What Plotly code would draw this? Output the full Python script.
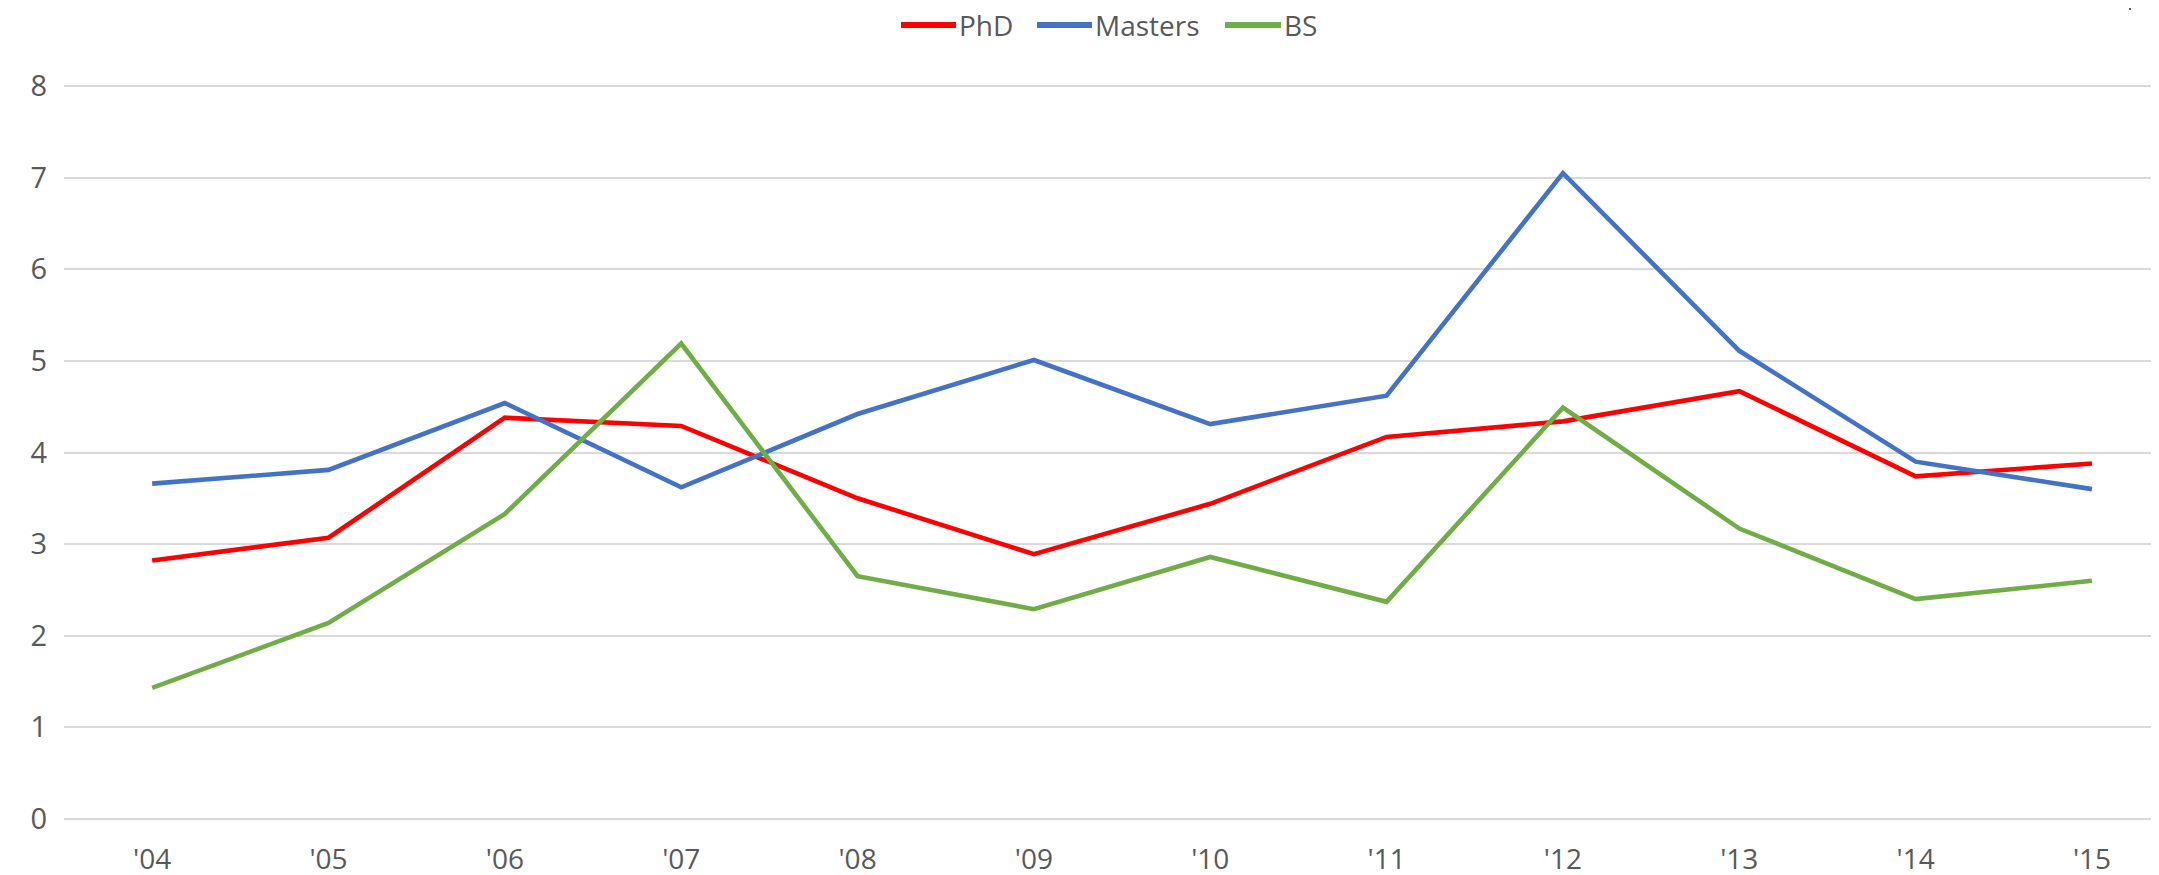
import plotly.graph_objects as go

years = ["'04", "'05", "'06", "'07", "'08", "'09", "'10", "'11", "'12", "'13", "'14", "'15"]
phd = [2.82, 3.07, 4.38, 4.29, 3.50, 2.89, 3.44, 4.17, 4.34, 4.67, 3.74, 3.88]
masters = [3.66, 3.81, 4.54, 3.62, 4.42, 5.01, 4.31, 4.62, 7.05, 5.11, 3.90, 3.60]
bs = [1.43, 2.14, 3.33, 5.19, 2.65, 2.29, 2.86, 2.37, 4.49, 3.17, 2.40, 2.60]
y_ticks = [0, 1, 2, 3, 4, 5, 6, 7, 8]

series_names = ["PhD", "Masters", "BS"]
series_colors = ["#FF0000", "#4472C4", "#70AD47"]
series_values = [phd, masters, bs]

font_color = "#595959"
font_family = "Open Sans"

# page offset (browser body margin) compensation
OFF = 8
PLOT_L, PLOT_T, PLOT_B = 64, 85, 820   # plot area edges in window pixels
PLOT_W = 2095
PLOT_H = PLOT_B - PLOT_T

def px_x(X):
    return (X - PLOT_L) / PLOT_W

def px_y(Y):
    return (PLOT_B - Y) / PLOT_H

fig = go.Figure()
for name, vals, color in zip(series_names, series_values, series_colors):
    fig.add_trace(go.Scatter(x=years, y=vals, name=name, mode="lines",
                             line=dict(color=color, width=4.6), showlegend=False))

fig.update_layout(
    width=2159 - OFF, height=875 - OFF,
    paper_bgcolor="white", plot_bgcolor="white",
    margin=dict(l=PLOT_L - OFF, r=0, t=PLOT_T - OFF, b=875 - PLOT_B),
    font=dict(family=font_family, size=29, color=font_color),
    showlegend=False,
    xaxis=dict(type="category", range=[-0.5, 11.38], showgrid=False, zeroline=False,
               showline=False, ticks="", ticklabelstandoff=20, automargin=False,
               tickfont=dict(size=28, color=font_color)),
    yaxis=dict(range=[-0.012, 8.012], tickvals=y_ticks, showgrid=True, gridcolor="#D9D9D9",
               gridwidth=1.5, zeroline=False, showline=False, ticks="", automargin=False,
               ticklabelstandoff=16, tickfont=dict(size=29, color=font_color)),
)

# legend drawn as line samples + text (positions measured in window pixels)
legend_line_x = [(901, 956), (1037, 1092), (1225, 1281)]
legend_y = 25
for (x0, x1), name, color in zip(legend_line_x, series_names, series_colors):
    fig.add_shape(type="line", xref="paper", yref="paper",
                  x0=px_x(x0), x1=px_x(x1), y0=px_y(legend_y), y1=px_y(legend_y),
                  line=dict(color=color, width=6))
    fig.add_annotation(xref="paper", yref="paper", x=px_x(x1 + 2), y=px_y(legend_y),
                       text=name, showarrow=False, xanchor="left", yanchor="middle",
                       borderpad=0,
                       font=dict(family=font_family, size=28, color=font_color))

fig.add_shape(type="line", xref="paper", yref="paper",
              x0=px_x(2130), x1=px_x(2130), y0=px_y(0), y1=px_y(10),
              line=dict(color="#595959", width=2))

fig.write_html("out.html")
